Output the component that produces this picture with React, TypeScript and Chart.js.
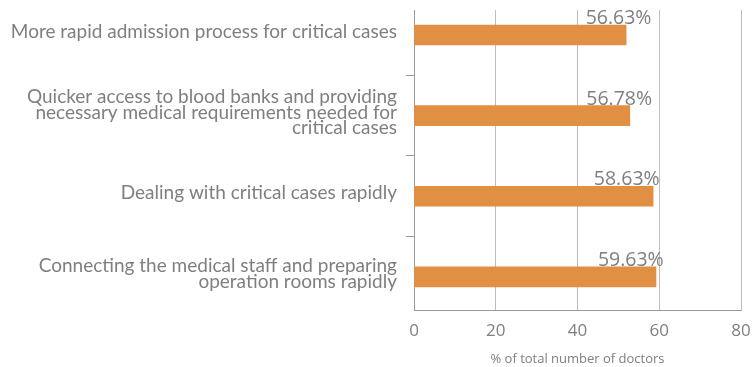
import React, { useEffect, useRef } from "react";
import { Chart, registerables } from "chart.js";

Chart.register(...registerables);

const categories: string[][] = [
  ["More rapid admission process for critical cases"],
  ["Quicker access to blood banks and providing", "necessary medical requirements needed for", "critical cases"],
  ["Dealing with critical cases rapidly"],
  ["Connecting the medical staff and preparing", "operation rooms rapidly"],
];
const barValues: number[] = [51.9, 52.8, 58.5, 59.2];
const valueLabels: string[] = ["56.63%", "56.78%", "58.63%", "59.63%"];
const xTicks: number[] = [0, 20, 40, 60, 80];
const xTitle = "% of total number of doctors";

const FONT = "'Open Sans', sans-serif";
const LFONT = "Lato, sans-serif";
const GREY = "#7f7f7f";

const labelPlugin = {
  id: "valueLabels",
  afterDatasetsDraw(chart: any) {
    const ctx = chart.ctx;
    const meta = chart.getDatasetMeta(0);
    const xScale = chart.scales.x;
    ctx.save();
    ctx.font = `19.5px ${FONT}`;
    ctx.fillStyle = GREY;
    ctx.textAlign = "right";
    ctx.textBaseline = "alphabetic";
    meta.data.forEach((bar: any, i: number) => {
      const top = bar.y - bar.height / 2;
      const px = xScale.getPixelForValue(parseFloat(valueLabels[i]));
      ctx.fillText(valueLabels[i], px + 6, top - 1);
    });
    ctx.restore();
  },
};

export default function App() {
  const ref = useRef<HTMLCanvasElement>(null);
  useEffect(() => {
    const chart = new Chart(ref.current!, {
      type: "bar",
      data: {
        datasets: [
          {
            data: barValues.map((v, i) => ({ x: v, y: i })),
            backgroundColor: "#e08f43",
            barThickness: 20,
          },
        ],
      },
      options: {
        indexAxis: "y",
        animation: false,
        responsive: false,
        maintainAspectRatio: false,
        layout: { padding: { top: 10, right: 14, left: 0, bottom: 0 } },
        plugins: { legend: { display: false }, tooltip: { enabled: false } },
        scales: {
          x: {
            type: "linear",
            min: 0,
            max: 80,
            afterBuildTicks: (s: any) => {
              s.ticks = xTicks.map((v) => ({ value: v }));
            },
            grid: { color: "#bdbdbd", drawTicks: false, lineWidth: 1 },
            border: { color: "#9a9a9a" },
            ticks: { color: GREY, font: { family: FONT, size: 17 }, padding: 11 },
            title: {
              display: true,
              text: xTitle,
              color: GREY,
              font: { family: FONT, size: 13 },
              padding: { top: 4, bottom: 0 },
            },
            afterFit: (s: any) => {
              s.height = 57;
              s.paddingLeft = 0;
              s.paddingRight = 0;
            },
          },
          y: {
            type: "linear",
            reverse: true,
            offset: false,
            min: -0.31,
            max: 3.41,
            afterBuildTicks: (s: any) => {
              s.ticks = categories.map((_, i) => ({ value: i }));
            },
            grid: { drawOnChartArea: false, offset: true, tickLength: 8, color: "#9a9a9a" },
            border: { color: "#9a9a9a" },
            ticks: {
              color: GREY,
              font: { family: LFONT, size: 19, lineHeight: 0.82 },
              padding: 9,
              labelOffset: -3,
              autoSkip: false,
              callback: (v: any) => categories[v as number],
            },
            afterFit: (s: any) => {
              s.width = 414;
              s.paddingTop = 0;
              s.paddingBottom = 0;
            },
          },
        },
      },
      plugins: [labelPlugin],
    } as any);
    return () => chart.destroy();
  }, []);
  return (
    <div style={{ position: "fixed", left: 0, top: 0, width: 755, height: 367, background: "#fff" }}>
      <canvas ref={ref} width={755} height={367} style={{ width: 755, height: 367 }} />
    </div>
  );
}
